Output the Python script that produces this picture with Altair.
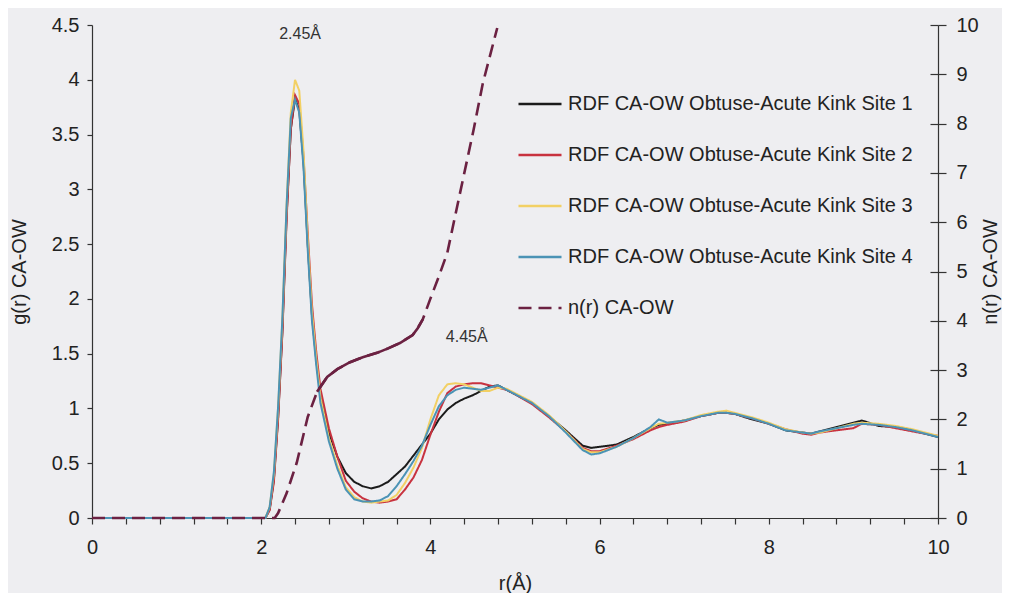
import altair as alt
import pandas as pd

# ---------------- data ----------------
R = [0, 1.0, 2.0,
     2.05, 2.1, 2.15, 2.2, 2.25, 2.3, 2.35, 2.4, 2.45, 2.5, 2.55, 2.6, 2.65, 2.7,
     2.8, 2.9, 3.0, 3.1, 3.2, 3.3, 3.4, 3.5, 3.6, 3.7, 3.8, 3.9, 4.0, 4.1, 4.2, 4.3, 4.4, 4.5, 4.6, 4.7, 4.8, 4.9,
     5.0, 5.2, 5.4, 5.6, 5.8, 5.9, 6.0, 6.2, 6.4, 6.6, 6.7, 6.8, 7.0, 7.2, 7.4, 7.5, 7.6, 7.8, 8.0, 8.2, 8.4, 8.5,
     8.6, 8.8, 9.0, 9.1, 9.3, 9.5, 9.7, 10.0]

SITE1 = [0, 0, 0,
         0.0, 0.08, 0.35, 0.92, 1.7, 2.75, 3.55, 3.83, 3.72, 3.25, 2.5, 1.85, 1.45, 1.12,
         0.78, 0.56, 0.41, 0.33, 0.29, 0.27, 0.29, 0.33, 0.40, 0.47, 0.57, 0.67, 0.77, 0.90, 0.99, 1.05, 1.09, 1.12, 1.16, 1.20, 1.21, 1.17,
         1.13, 1.05, 0.93, 0.80, 0.66, 0.64, 0.65, 0.67, 0.74, 0.82, 0.85, 0.86, 0.89, 0.93, 0.96, 0.96, 0.95, 0.90, 0.86, 0.80, 0.78, 0.77,
         0.79, 0.83, 0.87, 0.89, 0.84, 0.83, 0.80, 0.74]

SITE2 = [0, 0, 0,
         0.0, 0.07, 0.33, 0.90, 1.68, 2.72, 3.55, 3.86, 3.78, 3.30, 2.60, 1.95, 1.52, 1.18,
         0.82, 0.56, 0.34, 0.24, 0.18, 0.15, 0.14, 0.15, 0.17, 0.26, 0.37, 0.53, 0.76, 0.97, 1.14, 1.20, 1.22, 1.23, 1.23, 1.21, 1.19, 1.17,
         1.13, 1.04, 0.92, 0.79, 0.64, 0.61, 0.61, 0.66, 0.72, 0.80, 0.83, 0.85, 0.88, 0.93, 0.96, 0.96, 0.95, 0.91, 0.86, 0.81, 0.77, 0.76,
         0.78, 0.80, 0.82, 0.86, 0.85, 0.82, 0.79, 0.75]

SITE3 = [0, 0, 0,
         0.0, 0.10, 0.40, 1.00, 1.80, 2.85, 3.70, 4.00, 3.90, 3.35, 2.55, 1.88, 1.46, 1.10,
         0.73, 0.48, 0.28, 0.19, 0.15, 0.14, 0.15, 0.16, 0.21, 0.32, 0.46, 0.64, 0.90, 1.12, 1.22, 1.23, 1.22, 1.19, 1.16, 1.16, 1.19, 1.18,
         1.14, 1.06, 0.94, 0.79, 0.63, 0.60, 0.60, 0.65, 0.73, 0.82, 0.86, 0.87, 0.89, 0.94, 0.97, 0.98, 0.96, 0.92, 0.87, 0.81, 0.78, 0.77,
         0.78, 0.82, 0.86, 0.87, 0.86, 0.84, 0.81, 0.75]

SITE4 = [0, 0, 0,
         0.0, 0.10, 0.42, 1.02, 1.82, 2.85, 3.65, 3.82, 3.70, 3.20, 2.45, 1.80, 1.40, 1.05,
         0.70, 0.45, 0.26, 0.17, 0.15, 0.15, 0.16, 0.20, 0.29, 0.40, 0.52, 0.66, 0.85, 1.02, 1.12, 1.17, 1.19, 1.18, 1.17, 1.19, 1.21, 1.17,
         1.13, 1.05, 0.93, 0.78, 0.62, 0.58, 0.59, 0.65, 0.73, 0.83, 0.90, 0.87, 0.89, 0.93, 0.96, 0.96, 0.95, 0.91, 0.86, 0.80, 0.78, 0.77,
         0.79, 0.82, 0.85, 0.86, 0.85, 0.83, 0.80, 0.74]

NR_R = [0, 2.1, 2.16, 2.2, 2.3, 2.42, 2.55, 2.66, 2.78, 2.9, 3.05, 3.2, 3.37, 3.5, 3.64,
        3.79, 3.85, 3.91, 4.0, 4.1, 4.2, 4.35, 4.51, 4.62, 4.79]
NR_N = [0, 0, 0, 0.1, 0.5, 1.12, 2.05, 2.56, 2.86, 3.02, 3.16, 3.26, 3.35, 3.44, 3.55,
        3.71, 3.85, 4.03, 4.45, 4.9, 5.38, 6.59, 7.87, 8.82, 9.94]
NR_SOLID_FROM, NR_SOLID_TO = 2.66, 3.91   # stretch where the dashes merge into a solid line

SERIES = ["RDF CA-OW Obtuse-Acute Kink Site 1",
          "RDF CA-OW Obtuse-Acute Kink Site 2",
          "RDF CA-OW Obtuse-Acute Kink Site 3",
          "RDF CA-OW Obtuse-Acute Kink Site 4",
          "n(r) CA-OW"]
COLORS = ["#1b1b1b", "#c8323f", "#f2d064", "#4b93b5", "#6b2142"]
DASHES = [[1, 0], [1, 0], [1, 0], [1, 0], [13, 7]]

ANNOT_TEXT = ["2.45Å", "4.45Å"]
ANNOT_R = [2.46, 4.43]
ANNOT_G = [4.42, 1.65]

X_TICKS = [round(i * 0.4, 1) for i in range(26)]
G_TICKS = [i * 0.5 for i in range(10)]
N_TICKS = list(range(11))

# ---------------- tables ----------------
rows = []
for name, vals in zip(SERIES[:4], [SITE1, SITE2, SITE3, SITE4]):
    for r, g in zip(R, vals):
        rows.append({"r": r, "g": g, "series": name})
df_rdf = pd.DataFrame(rows)
df_n = pd.DataFrame({"r": NR_R, "n": NR_N, "series": SERIES[4]})
df_n_solid = df_n[(df_n["r"] >= NR_SOLID_FROM) & (df_n["r"] <= NR_SOLID_TO)]
df_txt = pd.DataFrame({"r": ANNOT_R, "g": ANNOT_G, "t": ANNOT_TEXT})

FONT = "Liberation Sans"
W, H = 846, 493

x_enc = alt.X("r:Q", scale=alt.Scale(domain=[0, 10], nice=False),
              axis=alt.Axis(values=X_TICKS, title="r(Å)", tickSize=6, labelOverlap=False,
                            labelFlush=False,
                            labelExpr="abs(datum.value/2 - round(datum.value/2)) < 0.001 ? format(datum.value, 'd') : ''",
                            labelPadding=13, titlePadding=16))

legend_kw = dict(title=None, orient="none", legendX=425, legendY=56,
                 symbolType="stroke", symbolSize=1850, symbolStrokeWidth=2.5,
                 labelFontSize=20, labelFont=FONT, labelColor="#222222",
                 labelLimit=600, labelOffset=5, rowPadding=18, padding=0)

color_enc = alt.Color("series:N", scale=alt.Scale(domain=SERIES, range=COLORS),
                      legend=alt.Legend(**legend_kw))
dash_enc = alt.StrokeDash("series:N", scale=alt.Scale(domain=SERIES, range=DASHES),
                          legend=alt.Legend(**legend_kw))

rdf = alt.Chart(df_rdf).mark_line(strokeWidth=2).encode(
    x=x_enc,
    y=alt.Y("g:Q", scale=alt.Scale(domain=[0, 4.5], nice=False),
            axis=alt.Axis(values=G_TICKS, format="~g", title="g(r) CA-OW", tickSize=5,
                          labelPadding=8, titlePadding=22, orient="left")),
    color=color_enc,
    strokeDash=dash_enc,
)

txt = alt.Chart(df_txt).mark_text(fontSize=16, font=FONT, color="#333333").encode(
    x=x_enc, y=alt.Y("g:Q"), text="t:N")

n_y = alt.Y("n:Q", scale=alt.Scale(domain=[0, 10], nice=False),
            axis=alt.Axis(values=N_TICKS, format="d", title="n(r) CA-OW", tickSize=8,
                          labelPadding=10, titlePadding=22, titleAngle=270, orient="right"))

nr = alt.Chart(df_n).mark_line(strokeWidth=2.6).encode(
    x=x_enc, y=n_y, color=color_enc, strokeDash=dash_enc,
)
nr_solid = alt.Chart(df_n_solid).mark_line(strokeWidth=2.6, color=COLORS[4]).encode(
    x=x_enc, y=n_y,
)

# inward half of the right axis' crossing ticks
nr_in = alt.Chart(df_n).mark_line(opacity=0).encode(
    x=x_enc,
    y=alt.Y("n:Q", scale=alt.Scale(domain=[0, 10], nice=False),
            axis=alt.Axis(values=N_TICKS, labels=False, domain=False, title=None, tickSize=8,
                          offset=-8, orient="right")),
)

chart = alt.layer(
    alt.layer(rdf, txt),
    alt.layer(nr, nr_solid),
    nr_in,
).resolve_scale(y="independent").properties(
    width=W, height=H,
    autosize="none",
    padding={"left": 84, "top": 17, "right": 64, "bottom": 75},
    background="#eeeef1",
).configure_view(stroke=None).configure_axis(
    labelFont=FONT, titleFont=FONT, labelFontSize=20, titleFontSize=20,
    titleFontWeight="normal", labelColor="#222222", titleColor="#222222",
    domainColor="#333333", tickColor="#333333", grid=False, domainWidth=1.2, tickWidth=1.2,
).configure_axisX(labelOverlap=False, labelFlush=False)

chart.save("out.html", embed_options={"renderer": "svg", "actions": False})
